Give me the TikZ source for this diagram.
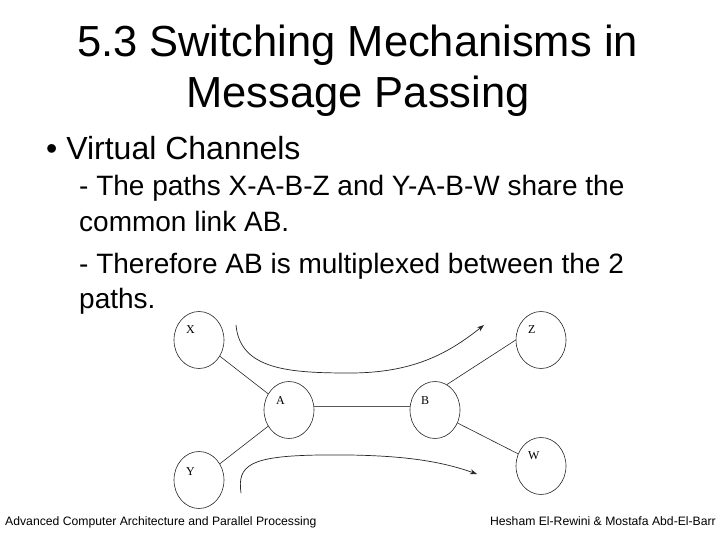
\documentclass[tikz,border=0pt]{standalone}
\usepackage{fontspec}
\setmainfont{Liberation Sans}
\newfontfamily\lserif{Liberation Serif}
\usetikzlibrary{shapes.geometric,arrows.meta}
\begin{document}
\begin{tikzpicture}[x=1pt,y=-1pt,
  nodecirc/.style={draw=black!85, ellipse, line width=0.6pt, minimum width=50pt, minimum height=57pt, inner sep=0pt},
  nlabel/.style={font=\lserif\fontsize{12}{12}\selectfont, inner sep=0pt, anchor=base west},
  link/.style={draw=black!85, line width=0.6pt},
  flowarrow/.style={draw=black!85, line width=0.7pt, -{Stealth[length=7pt,width=5pt]}},
  txtline/.style={anchor=base west, inner sep=0pt, font=\fontsize{28}{30}\selectfont},
  titleline/.style={anchor=base, inner sep=0pt, font=\fontsize{43.5}{50}\selectfont},
  footer/.style={inner sep=0pt, font=\fontsize{12.2}{14}\selectfont}]
\useasboundingbox[fill=white] (0,0) rectangle (720,540);

% title
\node[titleline] (t1) at (357.5,57) {5.3 Switching Mechanisms in};
\node[titleline] (t2) at (358,108) {Message Passing};

% bullet text
\node[anchor=base west, inner sep=0pt, font=\fontsize{32}{34}\selectfont] (b1) at (46,160) {\textbullet\ Virtual Channels};
\node[txtline] (l1) at (79,196) {- The paths X-A-B-Z and Y-A-B-W share the};
\node[txtline] (l2) at (79,232) {common link AB.};
\node[txtline] (l3) at (79,273) {- Therefore AB is multiplexed between the 2};
\node[txtline] (l4) at (79,308) {paths.};

% graph nodes
\node[nodecirc] (X) at (199,340) {};
\node[nodecirc] (Z) at (541,340) {};
\node[nodecirc] (A) at (289,410) {};
\node[nodecirc] (B) at (435,410) {};
\node[nodecirc] (Y) at (199,480) {};
\node[nodecirc] (W) at (541,466) {};

\node[nlabel] (Xl) at (186,333) {X};
\node[nlabel] (Zl) at (528,333) {Z};
\node[nlabel] (Al) at (276,404) {A};
\node[nlabel] (Bl) at (421,404) {B};
\node[nlabel] (Yl) at (186,475) {Y};
\node[nlabel] (Wl) at (528,459) {W};

% links
\draw[link] (X) -- (A);
\draw[link] (Y) -- (A);
\draw[draw=black!65, line width=1.3pt] (A.8) -- (B.172);
\draw[link] (B.65) -- (Z.180);
\draw[link] (B.-30) -- (W.152);

% virtual channel arrows
\coordinate (u0) at (236,325);
\coordinate (u1) at (484,325);
\coordinate (d0) at (241,493);
\coordinate (d1) at (477,474);
\draw[flowarrow] (u0) .. controls (240,370) and (290,373) .. (350,373)
                      .. controls (415,373) and (450,352) .. (u1);
\draw[flowarrow] (d0) .. controls (237,465) and (250,456) .. (320,455)
                      .. controls (400,454) and (440,461) .. (d1);

% footers
\node[footer, anchor=base west] (f1) at (5,525) {Advanced Computer Architecture and Parallel Processing};
\node[footer, anchor=base east] (f2) at (716,525) {Hesham El-Rewini \& Mostafa Abd-El-Barr};
\end{tikzpicture}
\end{document}
